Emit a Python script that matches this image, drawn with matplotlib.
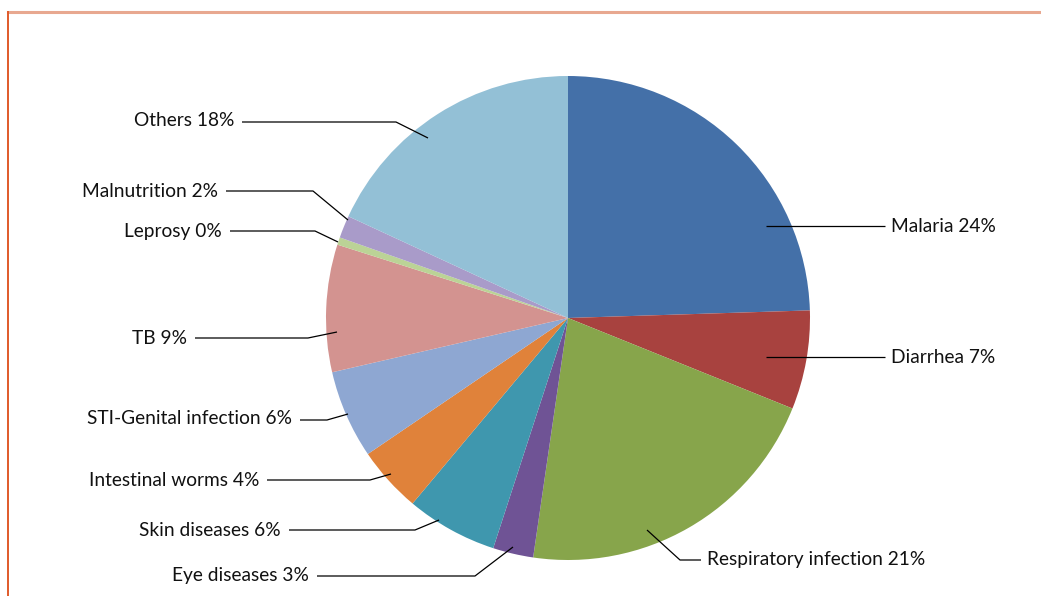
import matplotlib
matplotlib.use("Agg")
import matplotlib.pyplot as plt

# data (percent of cases)
diseases = ["Malaria", "Diarrhea", "Respiratory infection", "Eye diseases",
            "Skin diseases", "Intestinal worms", "STI-Genital infection",
            "TB", "Leprosy", "Malnutrition", "Others"]
shares = [24.5, 6.6, 21.2, 2.7, 6.1, 4.4, 5.9, 8.5, 0.5, 1.5, 18.1]
shown_pct = [24, 7, 21, 3, 6, 4, 6, 9, 0, 2, 18]
colors = ["#4470a8", "#a8423f", "#87a54b", "#6f5395", "#3f97ae", "#e0823a",
          "#8ea7d2", "#d39390", "#bbd396", "#a99bc9", "#93c0d6"]

# label layout in pixels: text anchor (x, y, ha), leader start, leader elbow
label_pos = [(891, 226, "left"), (891, 357, "left"), (707, 560, "left"),
             (309, 576, "right"), (281, 530, "right"), (259, 480, "right"),
             (292, 418, "right"), (187, 338, "right"), (222, 231, "right"),
             (218, 191, "right"), (234, 120, "right")]
leader_start = [(766, 226), (766, 357), (647, 530), (513, 547), (439, 520),
                (391, 474), (348, 414), (337, 332), (338, 242), (348, 220),
                (428, 138)]
leader_elbow = [(885, 226), (885, 357), (680, 560), (475, 576), (415, 530),
                (370, 480), (327, 420), (308, 338), (315, 231), (313, 191),
                (396, 122)]

W, H = 1041, 596
cx, cy, R = 568, 318, 242


def to_data(px, py):
    return (px - cx) / R, (cy - py) / R


fig = plt.figure(figsize=(W / 100, H / 100), dpi=100)
fig.patch.set_facecolor("white")
ax = fig.add_axes([0, 0, 1, 1])

# panel border (top and left edges only visible)
fig.add_artist(plt.Line2D([8 / W, 1], [1 - 12 / H, 1 - 12 / H],
                          color="#e8a890", lw=2.2, transform=fig.transFigure))
fig.add_artist(plt.Line2D([8 / W, 8 / W], [0, 1 - 12 / H],
                          color="#e05a2a", lw=1.4, transform=fig.transFigure))

ax.pie(shares, colors=colors, startangle=90, counterclock=False,
       radius=1.0, center=(0, 0), frame=True,
       wedgeprops=dict(linewidth=0, antialiased=True))
ax.set_xlim(-cx / R, (W - cx) / R)
ax.set_ylim(-(H - cy) / R, cy / R)
ax.set_aspect("equal")
ax.axis("off")

for name, pct, (tx, ty, ha), s, e in zip(diseases, shown_pct, label_pos,
                                        leader_start, leader_elbow):
    x0, y0 = to_data(*s)
    x1, y1 = to_data(*e)
    if ha == "left":
        x2 = (tx - 6 - cx) / R
    else:
        x2 = (tx + 8 - cx) / R
    ax.plot([x0, x1, x2], [y0, y1, y1], color="black", lw=0.9,
            solid_capstyle="butt")
    ax.text((tx - cx) / R, (cy - ty) / R, f"{name} {pct}%", ha=ha,
            va="center", fontsize=13.8, family="Lato", color="#111111")

fig.savefig("out.png", dpi=100)
